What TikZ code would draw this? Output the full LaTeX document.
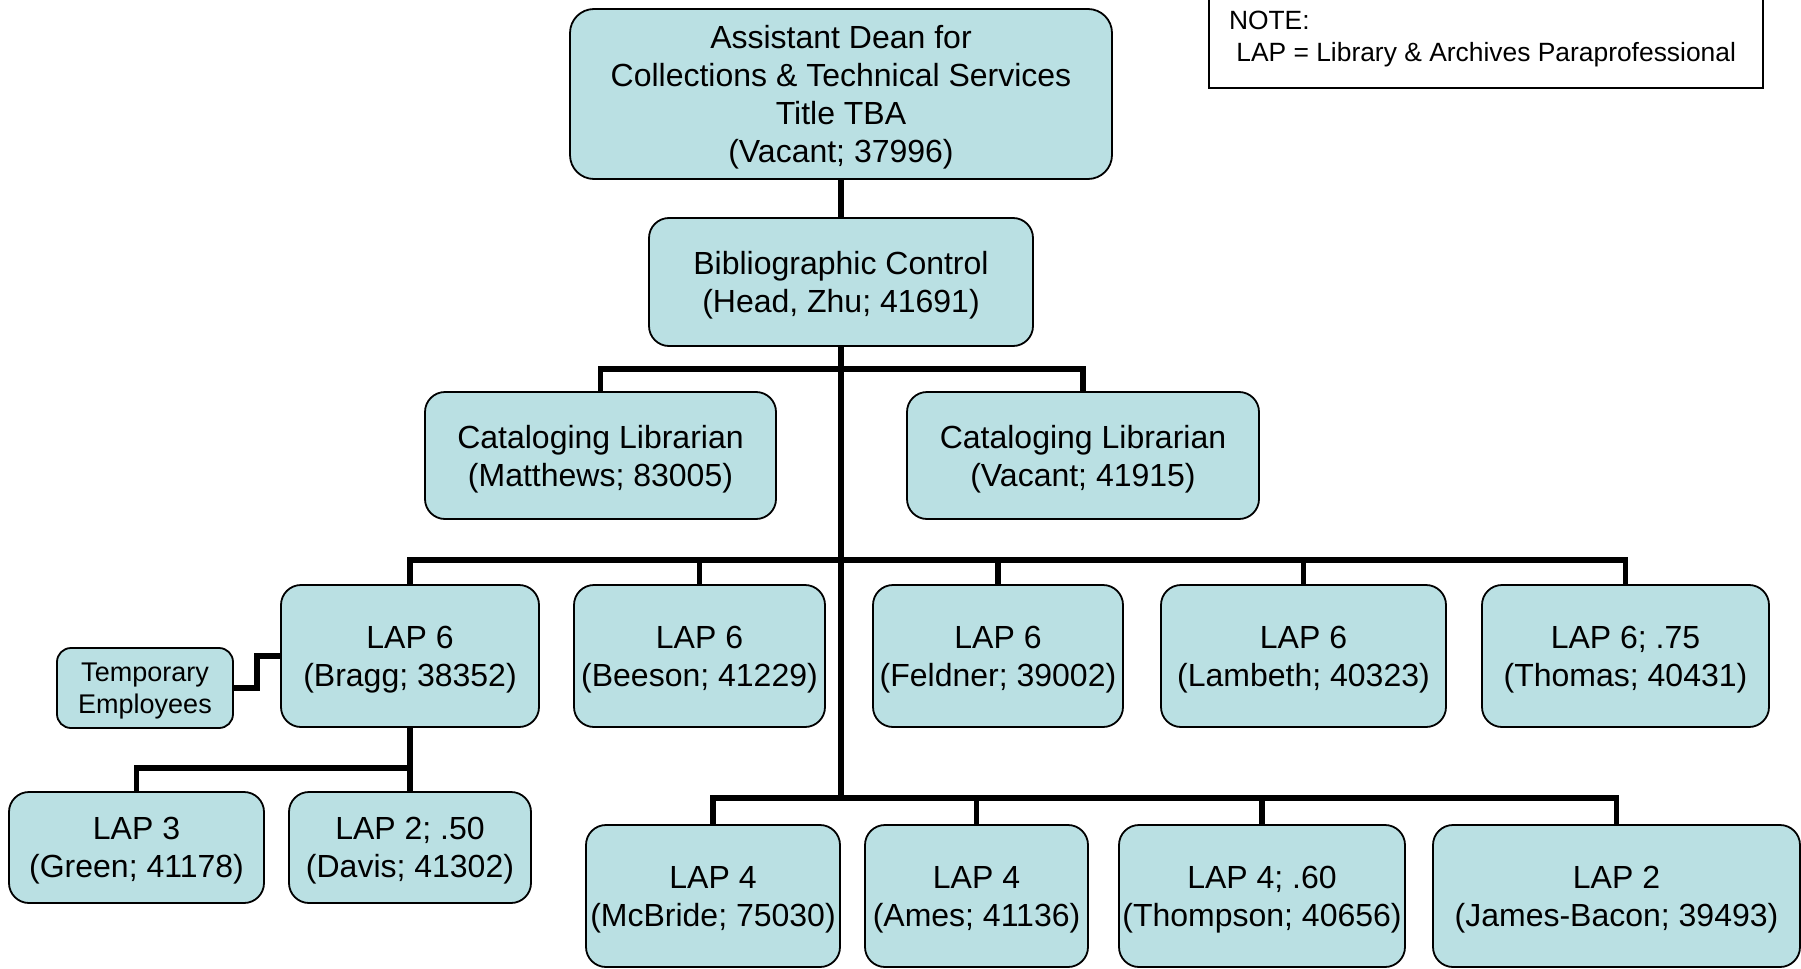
\documentclass[tikz,border=0pt]{standalone}
\usepackage{fontspec}
\setmainfont{Liberation Sans}
\definecolor{boxblue}{RGB}{186,224,227}

\begin{document}
\begin{tikzpicture}[x=0.5pt,y=-0.5pt,
        unit/.style={draw=black,line width=0.9pt,fill=boxblue,rounded corners=10pt,align=center,
            inner sep=0pt,text depth=0pt,font=\fontsize{16pt}{19pt}\selectfont},
        lapsix/.style={unit,minimum height=71pt},
        lapfour/.style={unit,minimum height=71pt},
        link/.style={line width=2.75pt,line join=miter}]
    \useasboundingbox (0,0) rectangle (1801,969);

    \node[unit,minimum width=271pt,minimum height=85pt,rounded corners=12pt] (dean) at (841,94)
        {Assistant Dean for\\Collections \& Technical Services\\Title TBA\\(Vacant; 37996)};
    \node[unit,minimum width=192pt,minimum height=64pt] (bib) at (841,282)
        {Bibliographic Control\\(Head, Zhu; 41691)};
    \node[draw,line width=1pt,anchor=north west,minimum width=277pt,minimum height=49.1pt,
        text width=257pt,inner xsep=10pt,align=flush left,font=\fontsize{13.2pt}{16pt}\selectfont] (note) at (1208,-11.2)
        {NOTE:\\\mbox{\ LAP = Library \& Archives Paraprofessional}};

    \node[unit,minimum width=175.5pt,minimum height=63.5pt] (catl) at (600.5,455.5)
        {Cataloging Librarian\\(Matthews; 83005)};
    \node[unit,minimum width=176pt,minimum height=63.5pt] (catr) at (1083,455.5)
        {Cataloging Librarian\\(Vacant; 41915)};

    \node[lapsix,minimum width=129pt] (bragg) at (410,656) {LAP 6\\(Bragg; 38352)};
    \node[lapsix,minimum width=125.5pt] (beeson) at (699.5,656) {LAP 6\\(Beeson; 41229)};
    \node[lapsix,minimum width=125pt] (feldner) at (998,656) {LAP 6\\(Feldner; 39002)};
    \node[lapsix,minimum width=142.5pt] (lambeth) at (1303.5,656) {LAP 6\\(Lambeth; 40323)};
    \node[lapsix,minimum width=143.5pt] (thomas) at (1625.5,656) {LAP 6; .75\\(Thomas; 40431)};

    \node[unit,minimum width=88pt,minimum height=40pt,rounded corners=7pt,
        font=\fontsize{13.5pt}{16pt}\selectfont] (temp) at (145,688) {Temporary\\Employees};
    \node[unit,minimum width=127.5pt,minimum height=55.5pt] (green) at (136.5,847.5) {LAP 3\\(Green; 41178)};
    \node[unit,minimum width=121pt,minimum height=55.5pt] (davis) at (410,847.5) {LAP 2; .50\\(Davis; 41302)};

    \node[lapfour,minimum width=127pt] (mcbride) at (713,896) {LAP 4\\(McBride; 75030)};
    \node[lapfour,minimum width=111.5pt] (ames) at (976.5,896) {LAP 4\\(Ames; 41136)};
    \node[lapfour,minimum width=143pt] (thompson) at (1262,896) {LAP 4; .60\\(Thompson; 40656)};
    \node[lapfour,minimum width=183.5pt] (jbacon) at (1616.5,896) {LAP 2\\(James-Bacon; 39493)};

    \coordinate (busa) at (841,369);
    \coordinate (busb) at (841,560);
    \coordinate (busc) at (841,798);
    \coordinate (busd) at (410,768);

    \draw[link] (dean) -- (bib);
    \draw[link] (bib.south) -- (busc);
    \draw[link] (catl.north) |- (busa) -| (catr.north);
    \draw[link] (bragg.north) |- (busb) -| (thomas.north);
    \foreach \n in {beeson,feldner,lambeth}
        \draw[link] (\n.north) -- (\n.north |- busb);
    \draw[link] (mcbride.north) |- (busc) -| (jbacon.north);
    \foreach \n in {ames,thompson}
        \draw[link] (\n.north) -- (\n.north |- busc);
    \draw[link] (bragg.south) -- (davis.north);
    \draw[link] (green.north) |- (busd);
    \draw[link] (temp.east) -- ++(23,0) |- (bragg.west);
\end{tikzpicture}
\end{document}
